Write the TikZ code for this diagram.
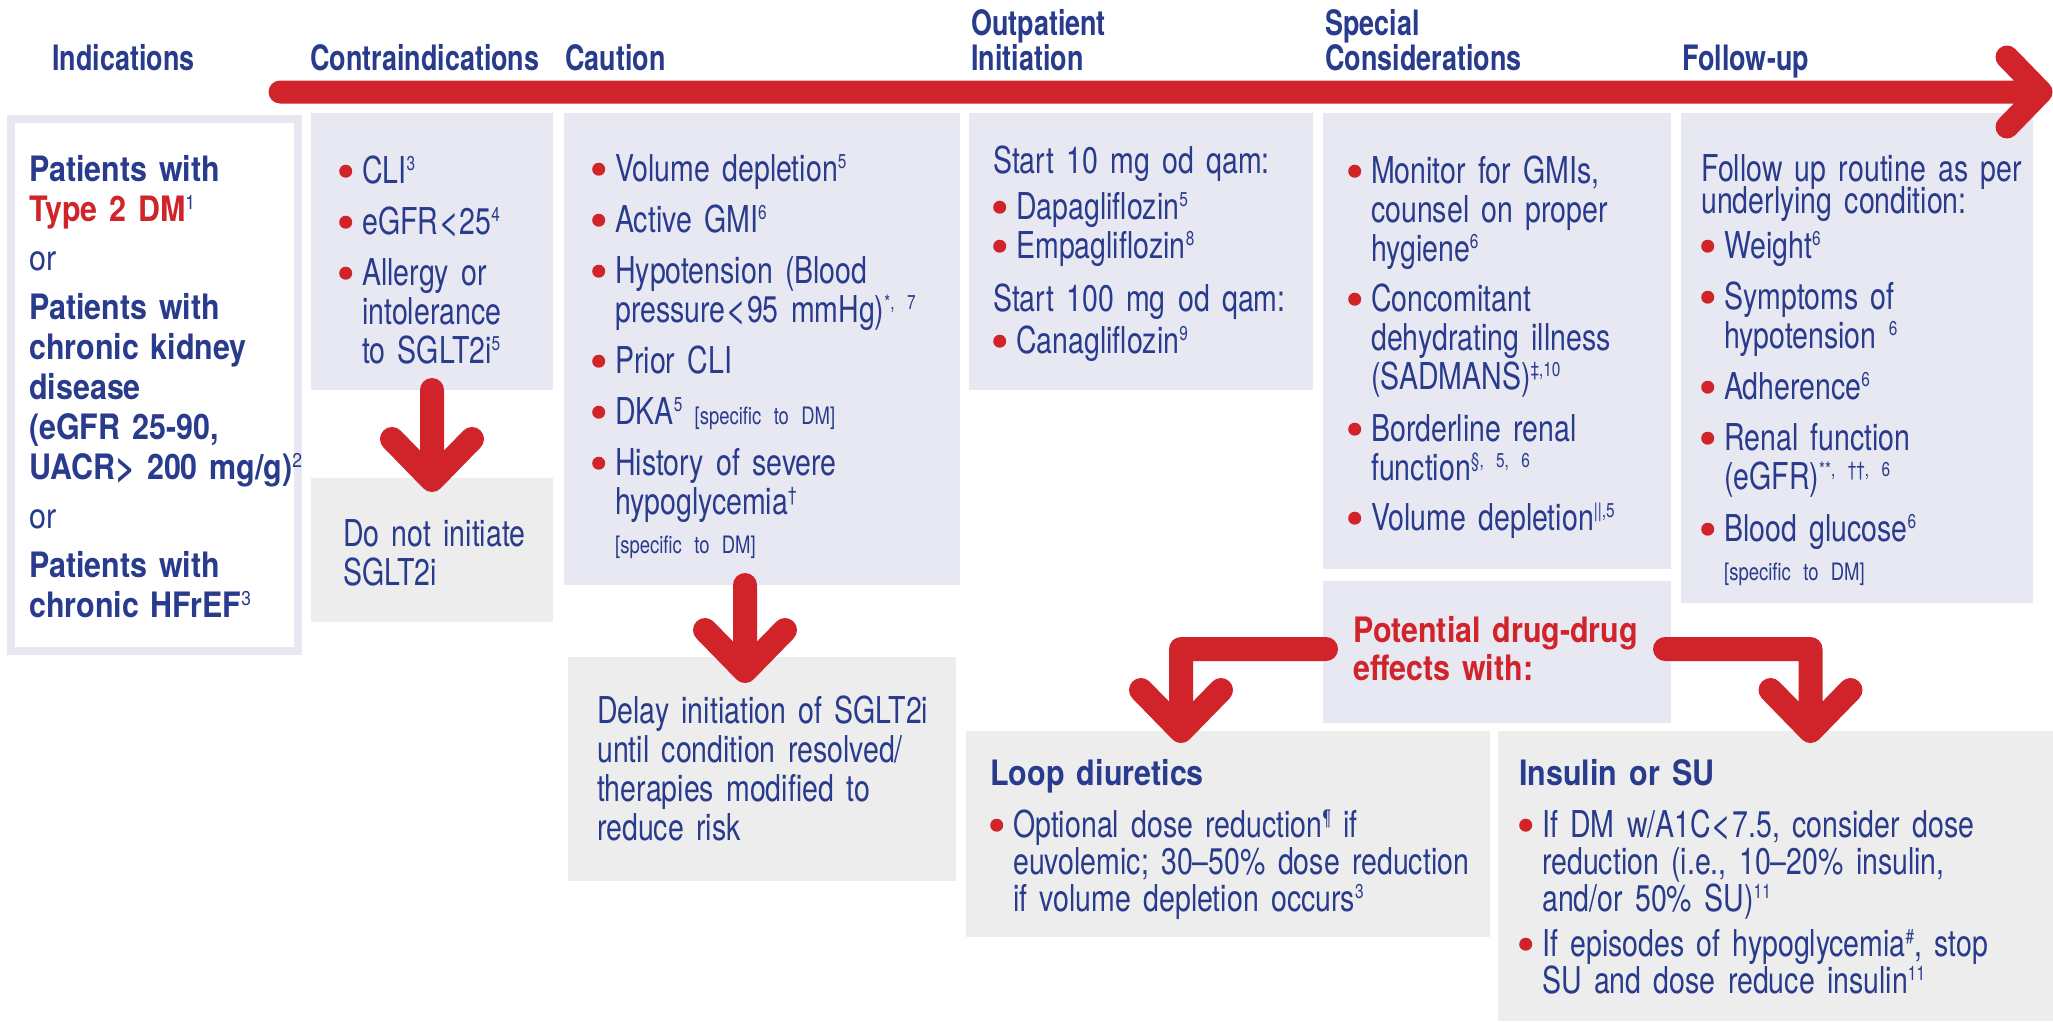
\documentclass[tikz,border=0pt]{standalone}
\usepackage{fontspec}
\setmainfont{TeX Gyre Heros}[FakeStretch=0.77, WordSpace=0.75]
\newfontfamily\headfont{TeX Gyre Heros}[FakeStretch=0.77, WordSpace=0.75]
\newfontfamily\titlefont{TeX Gyre Heros}[FakeStretch=0.87, WordSpace=0.8]
\newfontfamily\symfont{TeX Gyre Heros}
\usetikzlibrary{positioning, calc}

\definecolor{sgblue}{HTML}{283B8C}
\definecolor{sgred}{HTML}{D1232A}
\definecolor{lav}{HTML}{E8E8F2}
\definecolor{boxgray}{HTML}{EDEDED}

\newlength{\bulind}\setlength{\bulind}{23pt}
\newcommand{\fstrut}{\rule{0pt}{30pt}}
\newcommand{\hstrut}{\rule{0pt}{27pt}}
\newcommand{\nl}{\unskip\hfil\break}
\newcommand{\lessthan}{{\symfont\mdseries <}}
\newcommand{\morethan}{{\symfont >}}
\newcommand{\sups}[1]{\raisebox{0.34em}{\mdseries\fontsize{20}{20}\selectfont #1}}
\newcommand{\spec}[1]{{\fontsize{24}{26}\selectfont #1}}
\newcommand{\reddot}{\tikz[baseline=0pt]\fill[sgred] (0pt,0pt) ++(6.5pt,12pt) circle[radius=6.5pt];}
\newcommand{\bullitem}[2][12]{\par\vspace{#1pt}\leftskip=\bulind\relax\noindent\hskip-\bulind\makebox[\bulind][l]{\reddot}\fstrut#2}
\newcommand{\tightlines}{\lineskiplimit=-100pt\relax\parindent=0pt\relax}
\newcommand{\bodyfont}{\fontsize{37}{39}\selectfont\tightlines}
\newcommand{\listfont}{\fontsize{37}{37}\selectfont\tightlines}
\newcommand{\indfont}{\titlefont\fontsize{35}{40}\selectfont\tightlines}
\newcommand{\potfont}{\titlefont\bfseries\fontsize{35}{38}\selectfont\tightlines}

\tikzset{
  panel/.style={fill=lav, anchor=north west, inner sep=0, outer sep=0},
  graypanel/.style={panel, fill=boxgray},
  head/.style={anchor=north west, inner sep=0, text=sgblue, align=left, font={\headfont\bfseries\fontsize{35}{35}\selectfont}},
  body/.style={anchor=north west, inner sep=0, text=sgblue, align=left, font=\bodyfont},
  redarrow/.style={draw=sgred, line width=24pt, line cap=round, line join=round}
}

\begin{document}
\begin{tikzpicture}[x=1pt, y=-1pt]
  \useasboundingbox (0,0) rectangle (2053,1021);

  % Headers
  \node[head] (h-ind) at (52,43) {\hstrut Indications};
  \node[head] (h-contra) at (310,43) {\hstrut Contraindications};
  \node[head] (h-caution) at (565,43) {\hstrut Caution};
  \node[head] (h-outpat) at (971,8) {\hstrut Outpatient\\Initiation};
  \node[head] (h-special) at (1325,8) {\hstrut Special\\Considerations};
  \node[head] (h-follow) at (1682,43) {\hstrut Follow-up};

  % Panels
  \node[panel, fill=white, draw=lav, line width=8pt, minimum width=287pt, minimum height=532pt] (ind) at (11,119) {};
  \node[panel, minimum width=242pt, minimum height=277pt] (contra) at (311,113) {};
  \node[graypanel, minimum width=242pt, minimum height=144pt] (donot) at (311,478) {};
  \node[panel, minimum width=396pt, minimum height=472pt] (caution) at (564,113) {};
  \node[graypanel, minimum width=388pt, minimum height=224pt] (delay) at (568,657) {};
  \node[panel, minimum width=344pt, minimum height=277pt] (outpat) at (969,113) {};
  \node[panel, minimum width=348pt, minimum height=456pt] (special) at (1323,113) {};
  \node[panel, minimum width=348pt, minimum height=142pt] (pot) at (1323,581) {};
  \node[panel, minimum width=352pt, minimum height=490pt] (follow) at (1681,113) {};
  \node[graypanel, minimum width=524pt, minimum height=206pt] (loop) at (966,731) {};
  \node[graypanel, minimum width=555pt, minimum height=290pt] (insulin) at (1498,731) {};

  % Texts
  \node[body, text width=300pt, font=\indfont] (ind-txt) at (29,151) {\fstrut\bfseries Patients with\\\textcolor{sgred}{Type 2 DM}\sups{1}\par\vspace{9pt}\mdseries or\par\vspace{9pt}\bfseries Patients with\\chronic kidney\\disease\\(eGFR 25-90,\\UACR\morethan{} 200 mg/g)\sups{2}\par\vspace{9pt}\mdseries or\par\vspace{9pt}\bfseries Patients with\\chronic HFrEF\sups{3}};

  \node[body, text width=210pt] (contra-txt) at (339,144) {
    \bullitem[0]{CLI\sups{3}}
    \bullitem{eGFR\lessthan25\sups{4}}
    \bullitem{Allergy or\nl intolerance\nl to SGLT2i\sups{5}}\par
  };
  \node[body, text width=220pt] (donot-txt) at (343,516) {\fstrut Do not initiate\\SGLT2i};

  \node[body, text width=360pt] (caution-txt) at (592,142) {
    \bullitem[0]{Volume depletion\sups{5}}
    \bullitem{Active GMI\sups{6}}
    \bullitem{Hypotension (Blood\nl pressure\lessthan95 mmHg)\sups{*, 7}}
    \bullitem{Prior CLI}
    \bullitem{DKA\sups{5} \spec{[specific to DM]}}
    \bullitem{History of severe\nl hypoglycemia\sups{\textdagger}\nl\spec{[specific to DM]}}\par
  };
  \node[body, text width=370pt] (delay-txt) at (597,693) {\fstrut Delay initiation of SGLT2i\\until condition resolved/\\therapies modified to\\reduce risk};

  \node[body, text width=330pt] (outpat-txt) at (993,143) {
    \fstrut Start 10 mg od qam:
    \bullitem[7]{Dapagliflozin\sups{5}}
    \bullitem[0]{Empagliflozin\sups{8}}
    \par\vspace{14pt}\leftskip=0pt\relax Start 100 mg od qam:
    \bullitem[3]{Canagliflozin\sups{9}}\par
  };

  \node[body, text width=320pt] (special-txt) at (1348,144) {
    \bullitem[0]{Monitor for GMIs,\nl counsel on proper\nl hygiene\sups{6}}
    \bullitem[11]{Concomitant\nl dehydrating illness\nl (SADMANS)\sups{\textdaggerdbl,10}}
    \bullitem[13]{Borderline renal\nl function\sups{\S, 5, 6}}
    \bullitem[11]{Volume depletion\sups{||,5}}\par
  };
  \node[body, text width=320pt, text=sgred, font=\potfont] (pot-txt) at (1353,612) {\fstrut Potential drug-drug\\effects with:};

  \node[body, text width=340pt] (follow-txt) at (1701,151) {
    {\fontsize{37}{32}\selectfont\fstrut Follow up routine as per\\underlying condition:\par}
    \bullitem[6]{Weight\sups{6}}
    \bullitem{Symptoms of\nl hypotension \sups{6}}
    \bullitem{Adherence\sups{6}}
    \bullitem{Renal function\nl (eGFR)\sups{**, \textdagger\textdagger, 6}}
    \bullitem[13]{Blood glucose\sups{6}\nl\spec{[specific to DM]}}\par
  };

  \node[body, text width=500pt, font=\listfont] (loop-txt) at (990,755) {
    {\titlefont\bfseries\fontsize{35}{37}\selectfont\fstrut Loop diuretics\par}
    \bullitem[15]{Optional dose reduction\sups{\P} if\nl euvolemic; 30--50\% dose reduction\nl if volume depletion occurs\sups{3}}\par
  };
  \node[body, text width=530pt, font=\listfont] (insulin-txt) at (1519,755) {
    {\titlefont\bfseries\fontsize{35}{37}\selectfont\fstrut Insulin or SU\par}
    \bullitem[15]{If DM w/A1C\lessthan7.5, consider dose\nl reduction (i.e., 10--20\% insulin,\nl and/or 50\% SU)\sups{11}}
    \bullitem[8]{If episodes of hypoglycemia\sups{\#}, stop\nl SU and dose reduce insulin\sups{11}}\par
  };

  % Arrows
  \coordinate (tl-start) at (280,92);
  \coordinate (tl-end) at (2041,92);
  \draw[redarrow, line width=23pt] (tl-start) -- (tl-end) ++(-34,-35) -- ++(34,35) -- ++(-34,35);

  \draw[redarrow] (contra.south) -- ([yshift=-2pt]donot.north) ++(-40,-41) -- ++(40,41) -- ++(40,-41);
  \draw[redarrow] ([xshift=-17pt]caution.south) -- ([xshift=-17pt,yshift=-14pt]delay.north) ++(-40,-41) -- ++(40,41) -- ++(40,-41);

  \coordinate (pot-l) at ([xshift=3pt,yshift=3pt]pot.west);
  \coordinate (pot-r) at ([xshift=-6pt,yshift=3pt]pot.east);
  \coordinate (loop-tip) at ([xshift=-47pt]loop.north);
  \coordinate (ins-tip) at ([xshift=35pt]insulin.north);
  \draw[redarrow] (pot-l) -- (loop-tip |- pot-l) -- (loop-tip) ++(-40,-41) -- ++(40,41) -- ++(40,-41);
  \draw[redarrow] (pot-r) -- (ins-tip |- pot-r) -- (ins-tip) ++(-40,-41) -- ++(40,41) -- ++(40,-41);
\end{tikzpicture}
\end{document}
